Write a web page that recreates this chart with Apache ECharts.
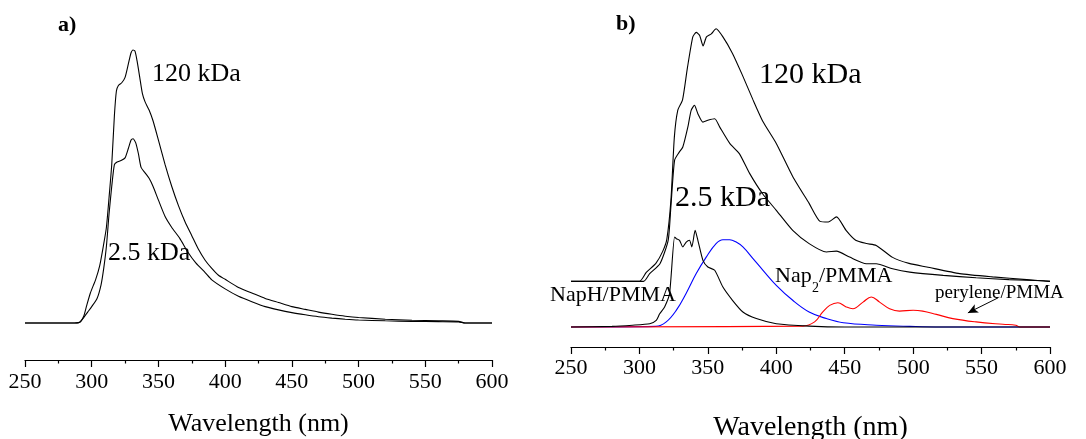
<!DOCTYPE html>
<html>
<head>
<meta charset="utf-8">
<script src="https://cdn.jsdelivr.net/npm/echarts@6/dist/echarts.min.js"></script>
<style>
html,body{margin:0;padding:0;background:#fff;}
#chart{width:1086px;height:439px;}
</style>
</head>
<body>
<div id="chart"></div>
<script>
// x ticks (nm)
let tickMin = 250, tickMax = 600, tickStep = 50;

// panel a) - [wavelength nm, intensity a.u.]
let a120 = [[250,0],[270,0],[285,0],[291,0.3],[294,2.5],[296,6],[299,11],[303,16],[306,21],[309,29],[311,35],[313,46],[315,58],[317,76],[318.5,85],[320,87],[322.5,88],[325,90],[327.5,95],[329.5,99],[331,100],[332.5,99.5],[334,96],[336,90],[338,84],[340,81],[343,78],[346,74],[350,67],[355,58],[360,50],[365,43],[370,37],[375,32],[380,27],[385,23],[390,20],[395,17.5],[400,16],[410,13],[420,11],[430,9],[440,7.5],[450,6],[460,5],[470,4],[480,3.2],[490,2.5],[500,2],[520,1.4],[540,1],[560,0.8],[575,0.6],[580,0],[600,0]];
let a25 = [[250,0],[285,0],[291,0.3],[294,2],[297,4],[300,6],[304,9],[307,14],[309,20],[311,28],[313,40],[315,50],[317,58],[319,59],[322,59.5],[325,60.5],[327.5,64],[329.5,67],[331,67.5],[333,66],[335,62],[337,57],[340,55],[343,53],[346,50],[350,45],[355,39],[360,35],[366,31],[372,26],[378,22],[385,18.5],[390,15.8],[400,12.5],[410,9.8],[420,7.8],[430,6],[440,4.8],[450,3.8],[460,3],[470,2.3],[480,1.8],[490,1.4],[500,1.1],[520,0.8],[540,0.6],[560,0.5],[575,0.4],[580,0],[600,0]];

// panel b) - polymer spectra are shifted up by offsetB
let offsetB = 15.2;
let b120 = [[250,0],[300,0],[305,3],[312,6],[317,10],[320,14],[323,27],[325.5,48],[328,57],[331.5,60.5],[335,71],[339,81.5],[341.5,83],[344,82],[346.5,78.5],[349,81.5],[352.5,82.5],[356,84.2],[361,81.5],[368,76],[375,69],[383,60.5],[390,53.5],[400,46],[412,35],[424,26],[432,20],[438,19.8],[444,21.5],[451,17],[458,13.7],[466,12.6],[473,12],[485,8],[497,6],[510,4.8],[534,2.6],[558,1.5],[583,0.6],[600,0]];
let b25 = [[250,0],[303,0],[307.5,2.6],[315,5.9],[321,13.7],[323,25],[325.7,40.4],[329,43],[331.7,44.8],[335.4,51.5],[337.8,57],[340.2,58.7],[342.7,55.9],[346.4,53.1],[350,53.7],[355,54.2],[358.6,51.5],[366,46],[373,42.6],[380.5,36],[390,29.2],[400,23.7],[412,17],[424,12.6],[436.6,9.8],[444,10.1],[453.6,8.1],[465.8,5.9],[473,5.9],[485,4.2],[497.5,3.1],[522,2],[546,1.2],[570,0.6],[595,0.2],[600,0]];
let napH = [[250,0],[280,0.2],[295,0.6],[307.5,1.1],[312.3,2.2],[314.8,4.4],[318.4,6.7],[322,11.1],[325.7,30],[327,29.4],[329.3,28.9],[331.7,26.7],[334.2,28.3],[336.6,28.9],[338.3,26.7],[340.7,32.2],[342.7,28.9],[346.4,22.2],[350,20],[355,18.9],[361,13.3],[368,8.9],[375.6,5],[385.4,2.8],[400,1.1],[424,0.3],[450,0],[600,0]];
let nap2 = [[250,0],[312,0.2],[319.6,1.7],[327,5.6],[334,11.1],[341.5,17.8],[348.8,23.3],[356,27.8],[361,29.1],[366,29.1],[370.7,28.3],[375.6,26.7],[383,22.8],[390.3,18.9],[400,13.9],[412,8.9],[424,5],[436.6,2.8],[449,1.4],[473,0.6],[497.5,0.2],[520,0],[600,0]];
let perylene = [[250,0],[419.5,0.3],[428,1.7],[434,5],[439,7.2],[445,8.1],[451,6.7],[456,6.1],[463.4,8.3],[469.4,10],[475.5,8.3],[482.8,6.1],[490,5.3],[500,5.6],[507,5.3],[517,4.2],[529,2.8],[546,1.7],[565.6,0.9],[575,0.6],[578,0],[600,0]];
// arrow pointing at the perylene curve
let arrowFrom = [562, 9.7], arrowTo = [540, 4.7];

let serif = '"Liberation Serif", "DejaVu Serif", serif';

function shiftUp(data, dy){
	return data.map(p => [p[0], p[1] + dy]);
}

function xAxisCfg(gridIndex, nameGap, nameSize, labelMargin){
	return {
		gridIndex: gridIndex,
		type: 'value',
		min: tickMin, max: tickMax, interval: tickStep,
		name: 'Wavelength (nm)',
		nameLocation: 'middle',
		nameGap: nameGap,
		nameTextStyle: {fontFamily: serif, fontSize: nameSize, color: '#000'},
		axisLine: {show: true, onZero: false, lineStyle: {color: '#000', width: 1.2}},
		axisTick: {show: true, length: 7, lineStyle: {color: '#000', width: 1.2}},
		minorTick: {show: true, splitNumber: 2, length: 3.5, lineStyle: {color: '#000', width: 1.2}},
		axisLabel: {fontFamily: serif, fontSize: 22, color: '#000', margin: labelMargin},
		splitLine: {show: false}
	};
}

function lineSeries(xi, data, color, smooth){
	return {
		type: 'line', xAxisIndex: xi, yAxisIndex: xi,
		data: data, showSymbol: false, smooth: smooth,
		lineStyle: {color: color, width: 1.1}, silent: true, animation: false
	};
}

let chart = echarts.init(document.getElementById('chart'));
let option = {
	backgroundColor: '#fff',
	animation: false,
	grid: [
		{left: 25, right: 594, top: 30, bottom: 79, outerBoundsMode: 'none', containLabel: false},
		{left: 571, right: 36, top: 20, bottom: 92, outerBoundsMode: 'none', containLabel: false}
	],
	xAxis: [xAxisCfg(0, 51, 26, 11), xAxisCfg(1, 67, 28, 10)],
	yAxis: [
		{gridIndex: 0, type: 'value', min: -13.55, max: 107.33, show: false},
		{gridIndex: 1, type: 'value', min: -6.67, max: 102.33, show: false}
	],
	series: [
		lineSeries(0, a120, '#000', 0.2),
		lineSeries(0, a25, '#000', 0.2),
		lineSeries(1, shiftUp(b120, offsetB), '#000', 0.2),
		lineSeries(1, shiftUp(b25, offsetB), '#000', 0.2),
		lineSeries(1, nap2, '#0000ff', 0.4),
		lineSeries(1, perylene, '#ff0000', 0.4),
		Object.assign(lineSeries(1, napH, '#000', 0.2), {
			markLine: {
				silent: true, symbol: ['none', 'arrow'], symbolSize: [7, 10],
				label: {show: false},
				lineStyle: {color: '#000', width: 1, type: 'solid'},
				data: [[{coord: arrowFrom}, {coord: arrowTo}]]
			}
		})
	],
	graphic: [
		{type: 'text', left: 58, top: 14, style: {text: 'a)', font: 'bold 22px ' + serif, fill: '#000'}},
		{type: 'text', left: 616, top: 13, style: {text: 'b)', font: 'bold 22px ' + serif, fill: '#000'}},
		{type: 'text', left: 152, top: 61, style: {text: '120 kDa', font: '26px ' + serif, fill: '#000'}},
		{type: 'text', left: 108, top: 240, style: {text: '2.5 kDa', font: '26px ' + serif, fill: '#000'}},
		{type: 'text', left: 759, top: 60, style: {text: '120 kDa', font: '30px ' + serif, fill: '#000'}},
		{type: 'text', left: 675, top: 183, style: {text: '2.5 kDa', font: '30px ' + serif, fill: '#000'}},
		{type: 'text', left: 550, top: 284, style: {text: 'NapH/PMMA', font: '22px ' + serif, fill: '#000'}},
		{type: 'text', left: 775, top: 265, style: {text: 'Nap', font: '22px ' + serif, fill: '#000'}},
		{type: 'text', left: 812, top: 281, style: {text: '2', font: '14px ' + serif, fill: '#000'}},
		{type: 'text', left: 819, top: 265, style: {text: '/PMMA', font: '22px ' + serif, fill: '#000'}},
		{type: 'text', left: 935, top: 284, style: {text: 'perylene/PMMA', font: '19px ' + serif, fill: '#000'}}
	]
};
chart.setOption(option);
</script>
</body>
</html>
